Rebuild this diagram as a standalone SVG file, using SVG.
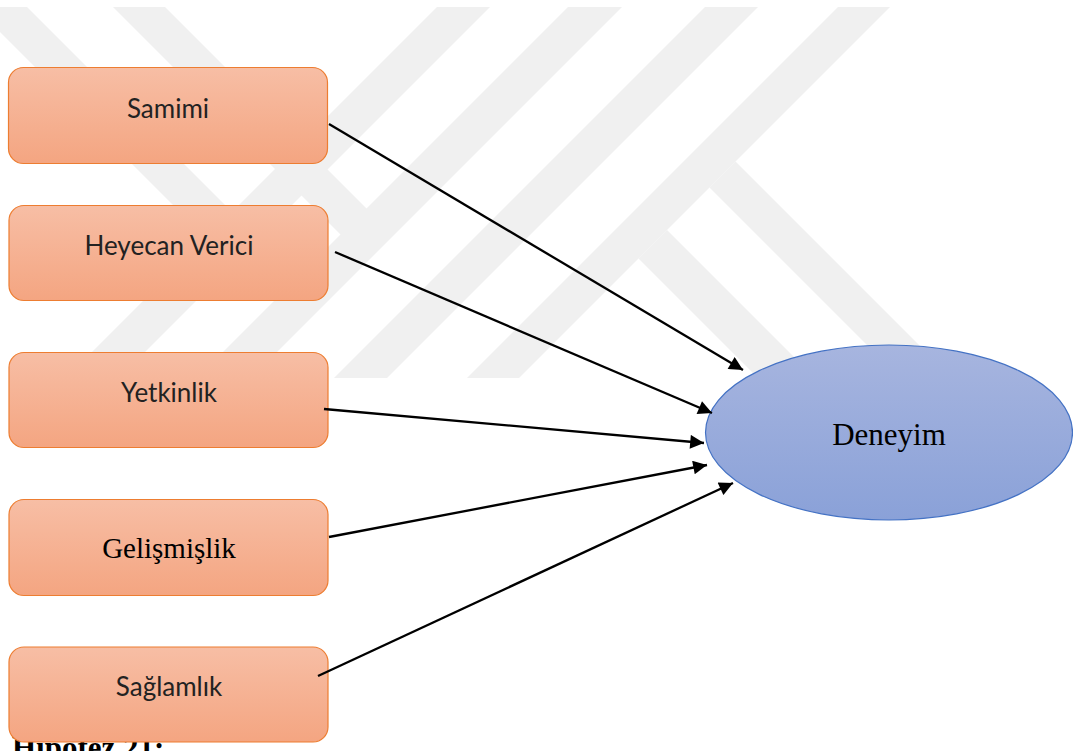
<svg xmlns="http://www.w3.org/2000/svg" width="1073" height="751" viewBox="0 0 1073 751">
<style>
.wm{fill:#f0f0f0}
.box{fill:url(#gOrange);stroke:#ED7D31;stroke-width:1.2}
.lbl{font-family:Lato,"Open Sans","Liberation Sans",sans-serif;font-weight:400;font-size:26px;fill:#222;text-anchor:middle}
.ser{font-family:"Liberation Serif","Times New Roman",serif;fill:#000;text-anchor:middle}
.conn{stroke:#000;stroke-width:2.3;fill:none;marker-end:url(#arr)}
</style>
<defs>
<linearGradient id="gOrange" x1="0" y1="0" x2="0" y2="1">
<stop offset="0" stop-color="#F7BEA5"/>
<stop offset="1" stop-color="#F4A581"/>
</linearGradient>
<linearGradient id="gBlue" x1="0" y1="0" x2="0" y2="1">
<stop offset="0" stop-color="#A7B5DF"/>
<stop offset="1" stop-color="#8AA1D8"/>
</linearGradient>
<marker id="arr" viewBox="0 0 10 10" refX="10" refY="5" markerWidth="7.5" markerHeight="6" markerUnits="strokeWidth" orient="auto">
<path d="M0,0 L10,5 L0,10 z" fill="#000"/>
</marker>
</defs>
<rect width="1073" height="751" fill="#fff"/>
<g id="watermark">
<polygon class="wm" points="-25,7 27,7 232,212 232.5,264.5"/>
<polygon class="wm" points="113,7 165,7 366.5,208.5 367.5,261.5"/>
<polygon class="wm" points="437,7 490,7 119,378 66,378"/>
<polygon class="wm" points="568,7 622,7 251,378 197,378"/>
<polygon class="wm" points="705,7 758,7 387,378 334,378"/>
<polygon class="wm" points="838,7 890,7 519,378 467,378"/>
<polygon class="wm" points="735.5,161.5 952,378 900,378 709.5,187.5"/>
<polygon class="wm" points="667,230 815,378 758,378 638.5,258.5"/>
</g>
<text x="12" y="758" font-family="Liberation Serif,serif" font-weight="bold" font-size="31" fill="#000">Hipotez 21:</text>
<g id="n-samimi">
<rect class="box" x="8.5" y="67.5" width="319" height="96" rx="15"/>
<text class="lbl" x="168" y="118" font-size="27">Samimi</text>
</g>
<g id="n-heyecan">
<rect class="box" x="9" y="205.5" width="319" height="95" rx="15"/>
<text class="lbl" x="169" y="255">Heyecan Verici</text>
</g>
<g id="n-yetkinlik">
<rect class="box" x="9" y="352.5" width="319" height="95" rx="15"/>
<text class="lbl" x="169" y="402">Yetkinlik</text>
</g>
<g id="n-gelismislik">
<rect class="box" x="9" y="499.5" width="319" height="96" rx="15"/>
<text class="ser" x="169" y="558" font-size="29">Gelişmişlik</text>
</g>
<g id="n-saglamlik">
<rect class="box" x="9" y="647" width="319" height="95" rx="15"/>
<text class="lbl" x="169" y="696">Sağlamlık</text>
</g>
<g id="n-deneyim">
<ellipse cx="889" cy="432.5" rx="183.5" ry="87.5" fill="url(#gBlue)" stroke="#4472C4" stroke-width="1.2"/>
<text class="ser" x="889" y="445" font-size="31">Deneyim</text>
</g>
<g id="connectors">
<line class="conn" x1="329" y1="124" x2="743" y2="370"/>
<line class="conn" x1="335" y1="252" x2="712" y2="413"/>
<line class="conn" x1="324" y1="409" x2="704" y2="443"/>
<line class="conn" x1="329" y1="537" x2="707" y2="465"/>
<line class="conn" x1="318" y1="676" x2="733" y2="483"/>
</g>
</svg>
